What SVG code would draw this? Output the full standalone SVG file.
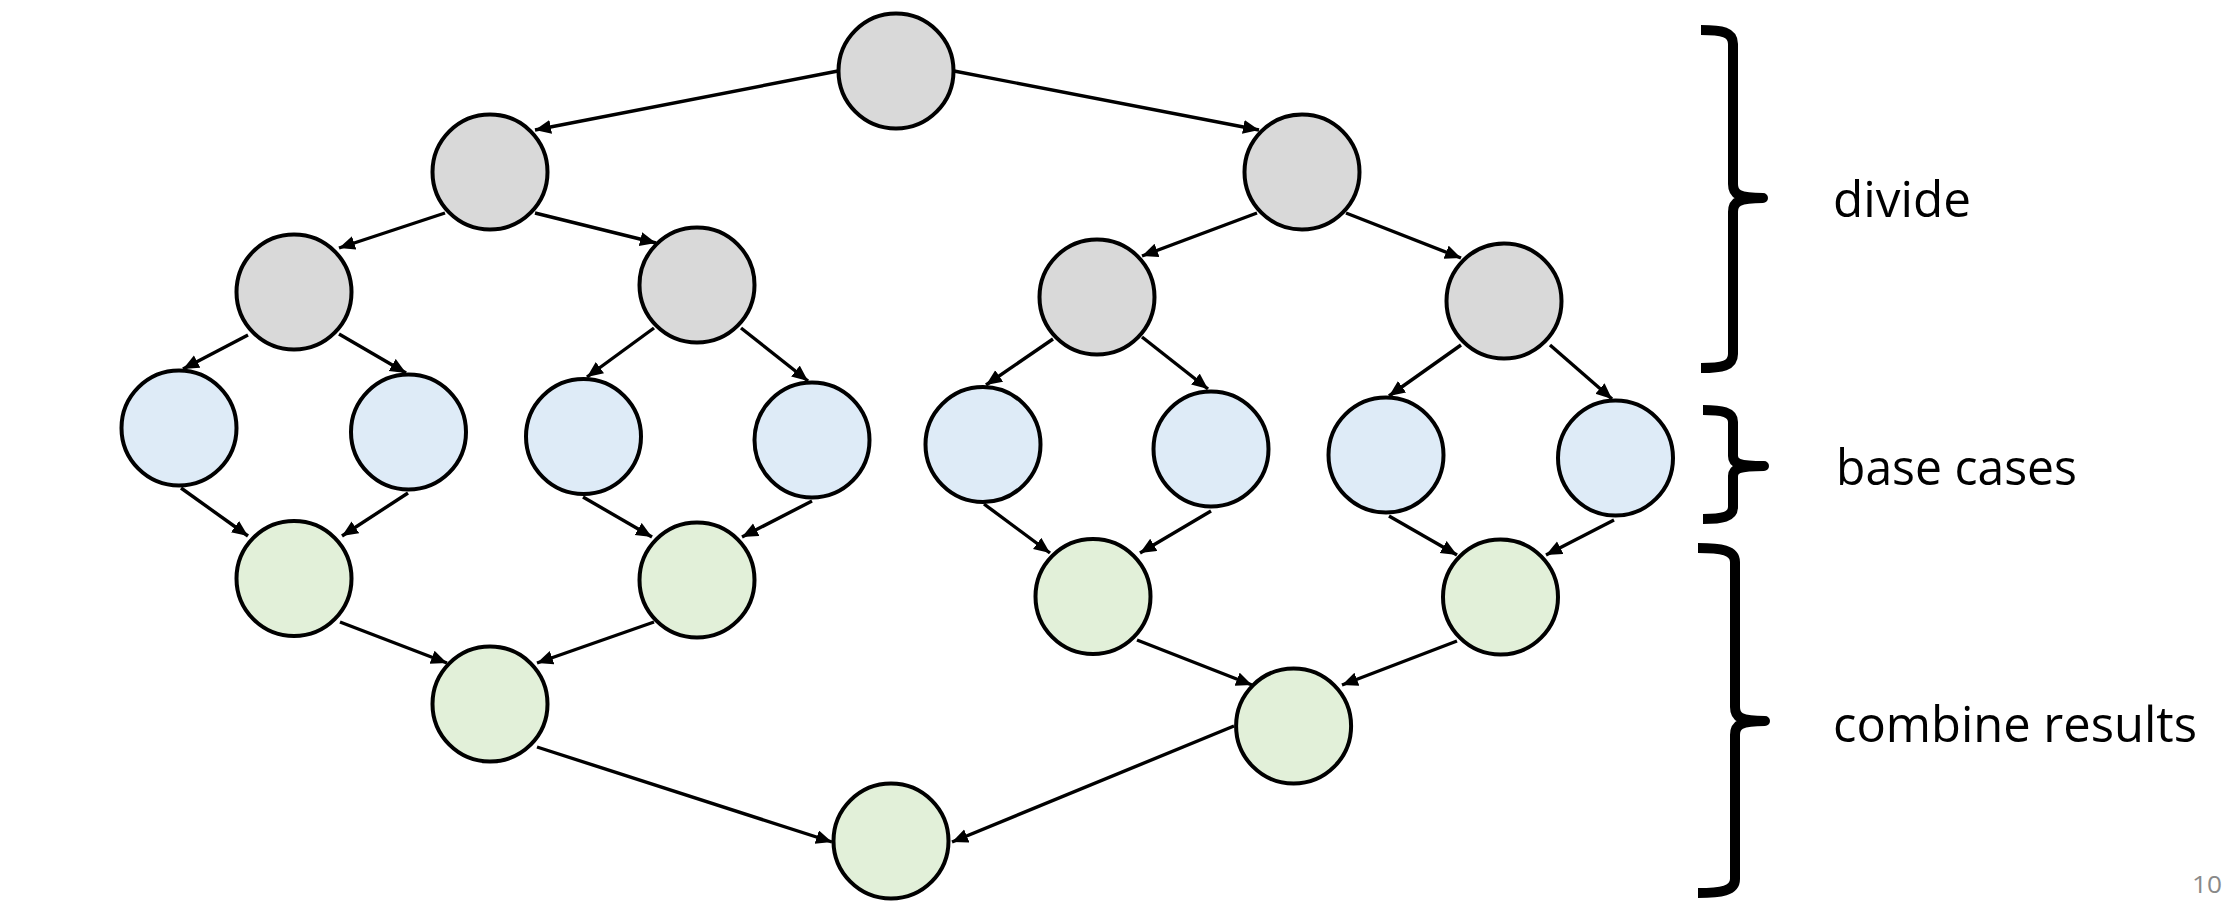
<svg xmlns="http://www.w3.org/2000/svg" width="2224" height="910" viewBox="0 0 2224 910">
<style>
.n{stroke:#000;stroke-width:4}
.g{fill:#D9D9D9}
.b{fill:#DEEBF7}
.r{fill:#E2F0D9}
.e line{stroke:#000;stroke-width:3.4;marker-end:url(#ah)}
.br{fill:none;stroke:#000;stroke-width:10;stroke-linejoin:round;stroke-linecap:butt}
.t{font-family:"Open Sans","Liberation Sans",sans-serif;font-size:49px;fill:#000}
.pg{font-family:"Open Sans","Liberation Sans",sans-serif;font-size:24px;fill:#898989}
</style>
<defs>
<marker id="ah" markerUnits="userSpaceOnUse" markerWidth="18" markerHeight="16" refX="16" refY="7" orient="auto" viewBox="0 0 18 16">
<path d="M0,0 L16,7 L0,14 z" fill="#000"/>
</marker>
</defs>
<rect width="2224" height="910" fill="#fff"/>
<g id="n-root"><circle class="n g" cx="896" cy="71" r="57.5"/></g>
<g id="n-l1a"><circle class="n g" cx="490" cy="172" r="57.5"/></g>
<g id="n-l1b"><circle class="n g" cx="1302" cy="172" r="57.5"/></g>
<g id="n-l2a"><circle class="n g" cx="294" cy="292" r="57.5"/></g>
<g id="n-l2b"><circle class="n g" cx="697" cy="285" r="57.5"/></g>
<g id="n-l2c"><circle class="n g" cx="1097" cy="297" r="57.5"/></g>
<g id="n-l2d"><circle class="n g" cx="1504" cy="301" r="57.5"/></g>
<g id="n-b1"><circle class="n b" cx="179" cy="428" r="57.5"/></g>
<g id="n-b2"><circle class="n b" cx="408.5" cy="432" r="57.5"/></g>
<g id="n-b3"><circle class="n b" cx="583.5" cy="436.5" r="57.5"/></g>
<g id="n-b4"><circle class="n b" cx="812" cy="440" r="57.5"/></g>
<g id="n-b5"><circle class="n b" cx="983" cy="444.5" r="57.5"/></g>
<g id="n-b6"><circle class="n b" cx="1211" cy="449" r="57.5"/></g>
<g id="n-b7"><circle class="n b" cx="1386" cy="455" r="57.5"/></g>
<g id="n-b8"><circle class="n b" cx="1615.5" cy="458" r="57.5"/></g>
<g id="n-g1"><circle class="n r" cx="294" cy="578.5" r="57.5"/></g>
<g id="n-g2"><circle class="n r" cx="697" cy="580" r="57.5"/></g>
<g id="n-g3"><circle class="n r" cx="1093" cy="596.5" r="57.5"/></g>
<g id="n-g4"><circle class="n r" cx="1500.5" cy="597" r="57.5"/></g>
<g id="n-g5"><circle class="n r" cx="490" cy="704" r="57.5"/></g>
<g id="n-g6"><circle class="n r" cx="1293.6" cy="726" r="57.5"/></g>
<g id="n-g7"><circle class="n r" cx="891" cy="841" r="57.5"/></g>
<g id="connectors" class="e">
<line x1="838" y1="71" x2="535" y2="130"/>
<line x1="954" y1="71" x2="1259" y2="130"/>
<line x1="445" y1="213" x2="339" y2="248"/>
<line x1="535" y1="213" x2="656" y2="243"/>
<line x1="1257" y1="213" x2="1142" y2="256"/>
<line x1="1346" y1="213" x2="1461" y2="258"/>
<line x1="248" y1="335" x2="183" y2="369"/>
<line x1="339" y1="334" x2="406" y2="373"/>
<line x1="654" y1="328" x2="587" y2="377"/>
<line x1="741" y1="328" x2="808" y2="381"/>
<line x1="1053" y1="339" x2="986" y2="385"/>
<line x1="1142" y1="337" x2="1208" y2="389"/>
<line x1="1461" y1="345" x2="1389" y2="396"/>
<line x1="1550" y1="345" x2="1612" y2="399"/>
<line x1="181" y1="488" x2="248" y2="536"/>
<line x1="408" y1="493" x2="342" y2="536"/>
<line x1="583" y1="497" x2="652" y2="537"/>
<line x1="812" y1="501" x2="742" y2="537"/>
<line x1="984" y1="504" x2="1050" y2="553"/>
<line x1="1211" y1="511" x2="1140" y2="553"/>
<line x1="1389" y1="516" x2="1457" y2="555"/>
<line x1="1614" y1="520" x2="1546" y2="555"/>
<line x1="340" y1="622" x2="447" y2="663"/>
<line x1="654" y1="622" x2="537" y2="663"/>
<line x1="1137" y1="640" x2="1252" y2="685"/>
<line x1="1457" y1="641" x2="1342" y2="685"/>
<line x1="537" y1="747" x2="832" y2="842"/>
<line x1="1234" y1="726" x2="952" y2="842"/>
</g>
<g id="brace-divide">
<path class="br" d="M1701,30 C1722,30 1733,32 1733,44 L1733,184 C1733,194 1738,198 1763,198 C1738,198 1733,202 1733,212 L1733,354 C1733,366 1722,368 1701,368"/>
<text class="t" x="1833" y="217" textLength="138" lengthAdjust="spacingAndGlyphs">divide</text>
</g>
<g id="brace-base">
<path class="br" d="M1703,410 C1722,410 1733,412 1733,422 L1733,456 C1733,463 1738,466 1764,466 C1738,466 1733,469 1733,476 L1733,507 C1733,517 1722,519 1703,519"/>
<text class="t" x="1836" y="485" textLength="241" lengthAdjust="spacingAndGlyphs">base cases</text>
</g>
<g id="brace-combine">
<path class="br" d="M1698,548 C1721,548 1735,550 1735,562 L1735,707 C1735,717 1740,721 1765,721 C1740,721 1735,725 1735,735 L1735,879 C1735,891 1721,893 1698,893"/>
<text class="t" x="1833" y="742" textLength="364" lengthAdjust="spacingAndGlyphs">combine results</text>
</g>
<text class="pg" x="2192" y="893" textLength="30" lengthAdjust="spacingAndGlyphs">10</text>
</svg>
